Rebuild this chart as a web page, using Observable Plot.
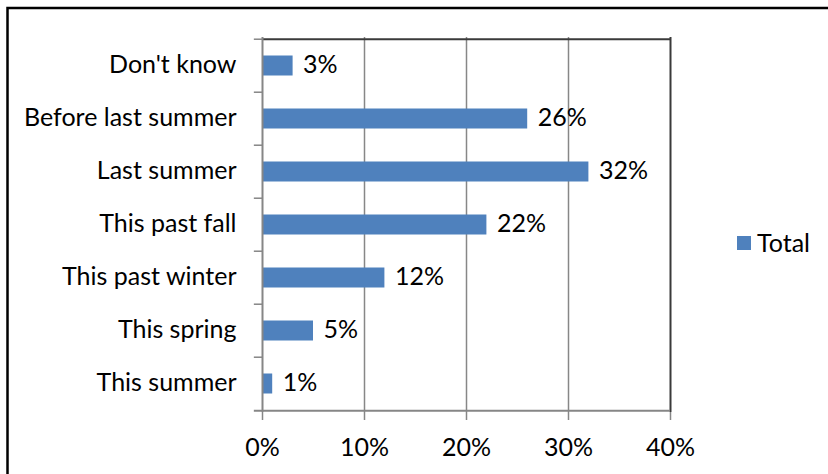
<!DOCTYPE html>
<html><head><meta charset="utf-8">
<script src="https://cdn.jsdelivr.net/npm/d3@7"></script>
<script src="https://cdn.jsdelivr.net/npm/@observablehq/plot@0.6"></script>
<style>body{margin:0;background:#fff;overflow:hidden}</style>
</head><body><div id="chart"></div>
<script>
const categories = ["Don't know","Before last summer","Last summer","This past fall","This past winter","This spring","This summer"];
const values = [3,26,32,22,12,5,1];
const xTicks = [0,10,20,30,40];
const seriesName = "Total";

const data = categories.map((c,i)=>({cat:c, v:values[i]}));
const W=828,H=474, mL=262, mT=37, mR=158, mB=62;
const bw = (H-mT-mB)/categories.length;
const font = "Lato, 'Open Sans', sans-serif";
const fs = 25;

const plot = Plot.plot({
  width:W, height:H, marginLeft:mL, marginTop:mT, marginRight:mR, marginBottom:mB,
  style:{fontFamily:font, background:"#fff"},
  x:{domain:[0,40], ticks:xTicks, tickFormat:d=>d+"%"},
  y:{domain:categories, padding:0},
  marks:[
    Plot.ruleX([10,20,30], {stroke:"#878787", strokeWidth:1.5}),
    Plot.ruleX([40], {stroke:"#3a3a3a", strokeWidth:2}),
    Plot.ruleY([categories[0]], {x1:0, x2:40, dy:-bw/2, stroke:"#3a3a3a", strokeWidth:2}),
    Plot.barX(data, {y:"cat", x:"v", fill:"#4f81bd", insetTop:16.5, insetBottom:16.5}),
    Plot.text(data, {y:"cat", x:"v", text:d=>d.v+"%", textAnchor:"start", dx:10, dy:-1, fontSize:fs, fill:"#000"}),
    Plot.ruleX([0], {stroke:"#868686", strokeWidth:2}),
    Plot.ruleY(categories, {x1:-0.8, x2:0, dy:-bw/2, stroke:"#868686", strokeWidth:1.5, clip:false}),
    Plot.ruleY([categories[categories.length-1]], {x1:-0.8, x2:40, dy:bw/2, stroke:"#868686", strokeWidth:2}),
    Plot.axisX({ticks:xTicks, tickFormat:d=>d+"%", tickSize:8, stroke:"#868686", fontSize:fs, tickPadding:18, fill:"#000", label:null}),
    Plot.axisY({tickSize:0, tickPadding:26, fontSize:fs, dy:-1, fill:"#000", label:null})
  ]
});
const svg = d3.select(plot);
svg.attr("font-family", font);
svg.selectAll("[aria-label='x-axis tick'] path, [aria-label='x-axis tick']").attr("stroke","#868686").attr("stroke-width",1.5);
svg.append("rect").attr("x",737).attr("y",236).attr("width",14).attr("height",14).attr("fill","#4f81bd");
svg.append("text").attr("x",757).attr("y",243).attr("dy","0.35em").attr("text-anchor","start").attr("font-size",fs).attr("fill","#000").attr("font-family",font).text(seriesName);
svg.append("rect").attr("x",7.5).attr("y",8).attr("width",W).attr("height",H).attr("fill","none").attr("stroke","#000").attr("stroke-width",2.5);
document.getElementById("chart").appendChild(plot);
</script></body></html>
